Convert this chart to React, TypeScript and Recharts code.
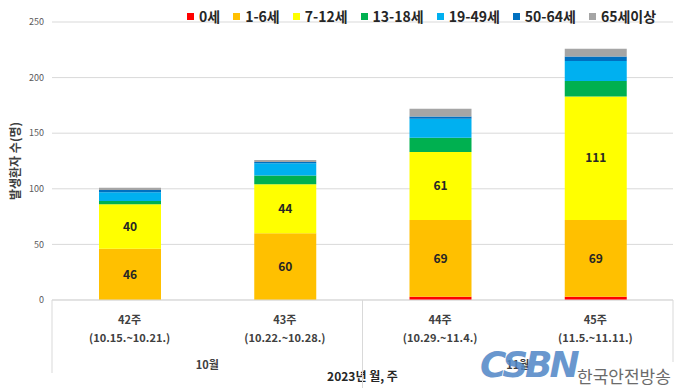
import React from "react";
import {
  BarChart,
  Bar,
  XAxis,
  YAxis,
  CartesianGrid,
  LabelList,
} from "recharts";

const weeks = ["42주", "43주", "44주", "45주"];
const weekRanges = [
  "(10.15.~10.21.)",
  "(10.22.~10.28.)",
  "(10.29.~11.4.)",
  "(11.5.~11.11.)",
];
const months = ["10월", "10월", "11월", "11월"];

const age0 = [0, 0, 3, 3];
const age1to6 = [46, 60, 69, 69];
const age7to12 = [40, 44, 61, 111];
const age13to18 = [3, 8, 13, 14];
const age19to49 = [8, 11, 17, 18];
const age50to64 = [2, 1, 2, 4];
const age65plus = [2, 2, 7, 7];

const yTicks = [0, 50, 100, 150, 200, 250];

const SERIES = [
  { key: "a0", name: "0세", color: "#FF0000", values: age0, label: false },
  { key: "a1", name: "1-6세", color: "#FFC000", values: age1to6, label: true },
  { key: "a7", name: "7-12세", color: "#FFFF00", values: age7to12, label: true },
  { key: "a13", name: "13-18세", color: "#00B050", values: age13to18, label: false },
  { key: "a19", name: "19-49세", color: "#00B0F0", values: age19to49, label: false },
  { key: "a50", name: "50-64세", color: "#0070C0", values: age50to64, label: false },
  { key: "a65", name: "65세이상", color: "#A5A5A5", values: age65plus, label: false },
];

const FONT = "'Noto Sans CJK KR', 'Noto Sans', sans-serif";
const LINE = "#d9d9d9";

const data = weeks.map((week, i) => {
  const row: Record<string, any> = { week, range: weekRanges[i], month: months[i] };
  SERIES.forEach((s) => {
    row[s.key] = s.values[i];
  });
  return row;
});

const WeekTick = (props: any) => {
  const { x, y, payload, index } = props;
  const off = payload?.offset ?? 77.6;
  const i = payload?.index ?? index;
  const row = data[i];
  // group month label sits between the two weeks of the same month
  const showMonth = i === 0 || i === 2;
  return (
    <g fontFamily={FONT}>
      <text x={x} y={y + 24} textAnchor="middle" fontSize={11} fill="#404040" fontWeight={600}>
        {row.week}
      </text>
      <text x={x} y={y + 42} textAnchor="middle" fontSize={11} fill="#404040" fontWeight={600}>
        {row.range}
      </text>
      {showMonth && (
        <text x={x + off} y={y + 69} textAnchor="middle" fontSize={11} fill="#404040" fontWeight={600}>
          {row.month}
        </text>
      )}
      {i === 0 && <line x1={x - off} x2={x - off} y1={y} y2={y + 73} stroke={LINE} />}
      {i === 1 && <line x1={x + off} x2={x + off} y1={y} y2={y + 88} stroke={LINE} />}
      {i === 3 && <line x1={x + off} x2={x + off} y1={y} y2={y + 62} stroke={LINE} />}
    </g>
  );
};

const App: React.FC = () => {
  return (
    <div style={{ position: "absolute", left: 0, top: 0, width: 680, height: 388, background: "#fff" }}>
      <BarChart
        width={680}
        height={388}
        data={data}
        margin={{ top: 22, right: 7, bottom: 0, left: 0 }}
        barSize={62}
      >
        <CartesianGrid vertical={false} stroke={LINE} />
        <XAxis
          dataKey="week"
          interval={0}
          height={88}
          tickSize={0}
          tickMargin={0}
          tickLine={false}
          axisLine={{ stroke: LINE }}
          tick={<WeekTick />}
          label={{
            content: (p: any) => {
              const vb = p.viewBox || { x: 52, y: 300, width: 621 };
              return (
                <text
                  x={vb.x + vb.width / 2}
                  y={vb.y + 81}
                  textAnchor="middle"
                  fontSize={12}
                  fontWeight={700}
                  fill="#262626"
                  fontFamily={FONT}
                >
                  2023년 월, 주
                </text>
              );
            },
          }}
        />
        <YAxis
          width={52}
          domain={[0, 250]}
          ticks={yTicks}
          axisLine={false}
          tickLine={false}
          tick={{ fontSize: 9, fill: "#595959", fontFamily: FONT }}
          label={{
            content: (p: any) => {
              const vb = p.viewBox || { x: 0, y: 22, height: 278 };
              const cx = vb.x + 14;
              const cy = vb.y + vb.height / 2;
              return (
                <text
                  x={cx}
                  y={cy}
                  transform={`rotate(-90 ${cx} ${cy})`}
                  textAnchor="middle"
                  dominantBaseline="central"
                  fontSize={12}
                  fontWeight={700}
                  fill="#404040"
                  fontFamily={FONT}
                >
                  발생환자 수(명)
                </text>
              );
            },
          }}
        />
        {SERIES.map((s) => (
          <Bar key={s.key} dataKey={s.key} name={s.name} stackId="a" fill={s.color} isAnimationActive={false}>
            {s.label && (
              <LabelList
                dataKey={s.key}
                position="center"
                fill="#262626"
                fontSize={12}
                fontWeight={700}
                fontFamily={FONT}
              />
            )}
          </Bar>
        ))}
      </BarChart>

      {/* legend across the top */}
      <div
        style={{
          position: "absolute",
          left: 187,
          top: 6,
          display: "flex",
          alignItems: "center",
          fontFamily: FONT,
          fontSize: 14,
          fontWeight: 600,
          color: "#262626",
          whiteSpace: "nowrap",
        }}
      >
        {SERIES.map((s) => (
          <div key={s.key} style={{ display: "flex", alignItems: "center", marginRight: 13 }}>
            <span style={{ width: 7, height: 7, background: s.color, marginRight: 5, display: "inline-block" }} />
            <span>{s.name}</span>
          </div>
        ))}
      </div>

      {/* broadcaster watermark */}
      <div
        style={{
          position: "absolute",
          left: 480,
          top: 346,
          fontFamily: "'DejaVu Sans', sans-serif",
          fontSize: 36,
          fontWeight: 700,
          fontStyle: "italic",
          color: "#4f86c6",
          opacity: 0.85,
          letterSpacing: -3,
          lineHeight: "38px",
        }}
      >
        CSBN
      </div>
      <div
        style={{
          position: "absolute",
          left: 577,
          top: 365,
          fontFamily: FONT,
          fontSize: 17,
          color: "#6b6b6b",
          lineHeight: "22px",
          whiteSpace: "nowrap",
        }}
      >
        한국안전방송
      </div>
    </div>
  );
};

export default App;
